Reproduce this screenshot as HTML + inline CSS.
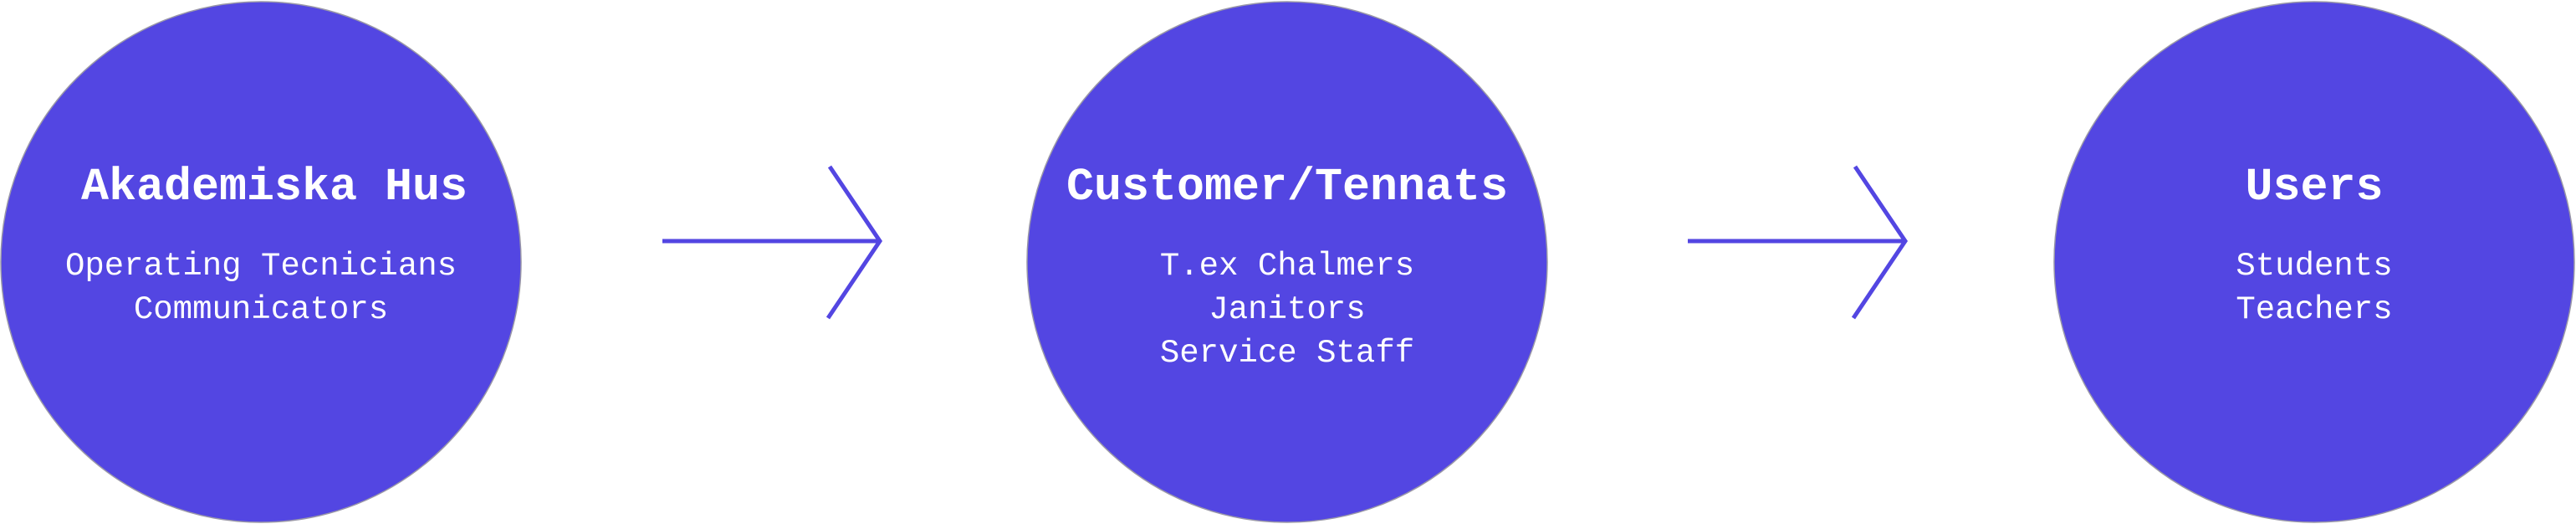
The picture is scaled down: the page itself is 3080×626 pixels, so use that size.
<!DOCTYPE html>
<html><head><meta charset="utf-8"><style>
html,body{margin:0;padding:0;background:#fff;width:3080px;height:626px;overflow:hidden}
svg{display:block}
text{font-family:"Liberation Mono",monospace;fill:#fff}
.t{font-size:55px;font-weight:bold}
.s{font-size:39px}
</style></head><body>
<svg width="3080" height="626" viewBox="0 0 3080 626">
<g fill="#5346e2" stroke="#9a98a8" stroke-width="1.5">
<circle cx="312" cy="313" r="311"/>
<circle cx="1539" cy="313" r="311"/>
<circle cx="2767" cy="313" r="311"/>
</g>
<g stroke="#5346e2" stroke-width="5" fill="none">
<line x1="792" y1="288" x2="1052" y2="288"/>
<polyline points="992,199 1052,288 990,380"/>
<line x1="2018" y1="288" x2="2278" y2="288"/>
<polyline points="2218,199 2278,288 2216,380"/>
</g>
<g text-anchor="middle">
<text class="t" x="328" y="238">Akademiska Hus</text>
<text class="s" x="312" y="328">Operating Tecnicians</text>
<text class="s" x="312" y="380">Communicators</text>
<text class="t" x="1539" y="238">Customer/Tennats</text>
<text class="s" x="1539" y="328">T.ex Chalmers</text>
<text class="s" x="1539" y="380">Janitors</text>
<text class="s" x="1539" y="432">Service Staff</text>
<text class="t" x="2767" y="238">Users</text>
<text class="s" x="2767" y="328">Students</text>
<text class="s" x="2767" y="380">Teachers</text>
</g>
</svg>
</body></html>
